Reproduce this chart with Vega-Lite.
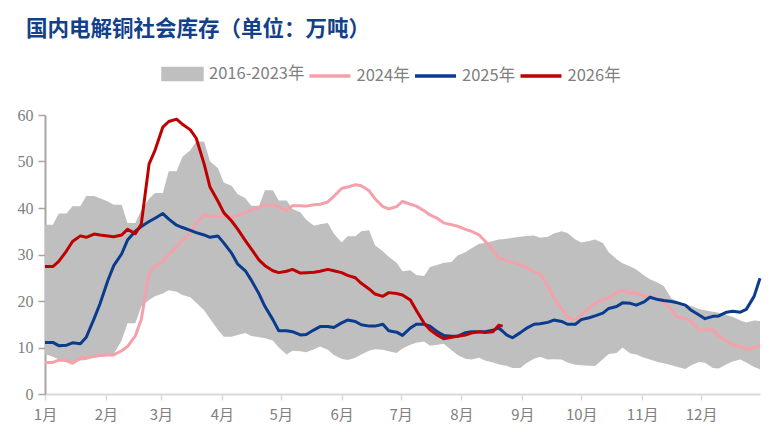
{
  "$schema": "https://vega.github.io/schema/vega-lite/v6.json",
  "autosize": {"type": "none"},
  "padding": {"left": 45, "top": 115, "right": 23, "bottom": 49},
  "width": 715,
  "height": 279,
  "background": "white",
  "title": {
    "text": "国内电解铜社会库存（单位：万吨）",
    "anchor": "start",
    "frame": "group",
    "offset": 11,
    "dx": -19,
    "font": "Noto Sans CJK SC",
    "fontSize": 21.5,
    "fontWeight": "bold",
    "color": "#12408a"
  },
  "data": {
    "values": [
      {"date": "2025-01-01", "lo": 8.6, "hi": 36.4, "y2024": 6.8, "y2025": 11.1, "y2026": 27.4},
      {"date": "2025-01-05", "lo": 8.0, "hi": 36.4, "y2024": 6.8, "y2025": 11.1, "y2026": 27.4},
      {"date": "2025-01-08", "lo": 7.5, "hi": 38.8, "y2024": 7.3, "y2025": 10.4, "y2026": 28.5},
      {"date": "2025-01-12", "lo": 7.0, "hi": 38.8, "y2024": 7.2, "y2025": 10.5, "y2026": 30.8},
      {"date": "2025-01-15", "lo": 7.0, "hi": 40.4, "y2024": 6.6, "y2025": 11.0, "y2026": 32.8},
      {"date": "2025-01-19", "lo": 7.2, "hi": 40.4, "y2024": 7.7, "y2025": 10.8, "y2026": 34.0},
      {"date": "2025-01-22", "lo": 7.3, "hi": 42.6, "y2024": 7.9, "y2025": 12.2, "y2026": 33.7},
      {"date": "2025-01-26", "lo": 7.8, "hi": 42.6, "y2024": 8.1, "y2025": 16.2, "y2026": 34.4},
      {"date": "2025-01-29", "lo": 8.0, "hi": 42.1, "y2024": 8.3, "y2025": 19.4, "y2026": 34.2},
      {"date": "2025-02-02", "lo": 8.2, "hi": 41.4, "y2024": 8.4, "y2025": 24.4, "y2026": 34.0},
      {"date": "2025-02-05", "lo": 8.6, "hi": 40.7, "y2024": 8.4, "y2025": 27.6, "y2026": 33.8},
      {"date": "2025-02-09", "lo": 11.5, "hi": 40.7, "y2024": 9.3, "y2025": 30.1, "y2026": 34.2},
      {"date": "2025-02-12", "lo": 15.2, "hi": 36.8, "y2024": 10.2, "y2025": 33.1, "y2026": 35.4},
      {"date": "2025-02-16", "lo": 15.2, "hi": 36.8, "y2024": 12.5, "y2025": 35.0, "y2026": 34.5},
      {"date": "2025-02-19", "lo": 18.8, "hi": 39.5, "y2024": 16.0, "y2025": 36.0, "y2026": 36.5},
      {"date": "2025-02-23", "lo": 20.2, "hi": 42.0, "y2024": 26.0, "y2025": 37.1, "y2026": 49.5},
      {"date": "2025-02-26", "lo": 21.0, "hi": 43.2, "y2024": 27.3, "y2025": 37.8, "y2026": 52.4},
      {"date": "2025-03-02", "lo": 21.6, "hi": 43.2, "y2024": 28.6, "y2025": 38.8, "y2026": 57.4},
      {"date": "2025-03-05", "lo": 22.3, "hi": 47.9, "y2024": 30.0, "y2025": 37.6, "y2026": 58.6},
      {"date": "2025-03-09", "lo": 22.0, "hi": 47.9, "y2024": 31.7, "y2025": 36.3, "y2026": 59.1},
      {"date": "2025-03-12", "lo": 21.3, "hi": 51.0, "y2024": 33.0, "y2025": 35.8, "y2026": 58.0},
      {"date": "2025-03-16", "lo": 20.8, "hi": 52.4, "y2024": 34.5, "y2025": 35.2, "y2026": 56.8},
      {"date": "2025-03-19", "lo": 19.6, "hi": 54.3, "y2024": 36.8, "y2025": 34.7, "y2026": 55.0},
      {"date": "2025-03-23", "lo": 18.0, "hi": 54.3, "y2024": 38.5, "y2025": 34.2, "y2026": 49.5},
      {"date": "2025-03-26", "lo": 16.2, "hi": 50.0, "y2024": 38.3, "y2025": 33.7, "y2026": 44.5},
      {"date": "2025-03-30", "lo": 13.8, "hi": 48.6, "y2024": 38.1, "y2025": 34.0, "y2026": 41.5},
      {"date": "2025-04-02", "lo": 12.3, "hi": 45.5, "y2024": 38.3, "y2025": 32.5, "y2026": 39.0},
      {"date": "2025-04-06", "lo": 12.3, "hi": 44.8, "y2024": 38.0, "y2025": 30.3, "y2026": 37.2},
      {"date": "2025-04-09", "lo": 12.7, "hi": 43.0, "y2024": 38.4, "y2025": 28.0, "y2026": 35.5},
      {"date": "2025-04-13", "lo": 13.1, "hi": 42.1, "y2024": 39.0, "y2025": 26.5, "y2026": 33.0},
      {"date": "2025-04-16", "lo": 12.5, "hi": 40.5, "y2024": 39.6, "y2025": 24.5, "y2026": 31.2},
      {"date": "2025-04-20", "lo": 12.2, "hi": 40.5, "y2024": 40.2, "y2025": 21.5, "y2026": 28.8},
      {"date": "2025-04-23", "lo": 12.0, "hi": 43.8, "y2024": 40.6, "y2025": 18.8, "y2026": 27.6},
      {"date": "2025-04-27", "lo": 11.5, "hi": 43.8, "y2024": 40.7, "y2025": 16.0, "y2026": 26.5},
      {"date": "2025-04-30", "lo": 10.0, "hi": 41.6, "y2024": 40.2, "y2025": 13.6, "y2026": 26.1},
      {"date": "2025-05-04", "lo": 8.5, "hi": 41.6, "y2024": 39.5, "y2025": 13.6, "y2026": 26.4},
      {"date": "2025-05-07", "lo": 9.3, "hi": 39.8, "y2024": 40.5, "y2025": 13.4, "y2026": 26.8},
      {"date": "2025-05-11", "lo": 9.2, "hi": 39.1, "y2024": 40.5, "y2025": 12.7, "y2026": 26.0},
      {"date": "2025-05-14", "lo": 9.0, "hi": 37.5, "y2024": 40.4, "y2025": 12.8, "y2026": 26.1},
      {"date": "2025-05-18", "lo": 9.6, "hi": 36.2, "y2024": 40.7, "y2025": 13.8, "y2026": 26.2},
      {"date": "2025-05-21", "lo": 10.2, "hi": 36.5, "y2024": 40.8, "y2025": 14.5, "y2026": 26.4},
      {"date": "2025-05-25", "lo": 9.5, "hi": 36.8, "y2024": 41.3, "y2025": 14.5, "y2026": 26.8},
      {"date": "2025-05-28", "lo": 8.4, "hi": 34.5, "y2024": 42.5, "y2025": 14.3, "y2026": 26.5},
      {"date": "2025-06-01", "lo": 7.6, "hi": 32.6, "y2024": 44.2, "y2025": 15.3, "y2026": 26.1},
      {"date": "2025-06-04", "lo": 7.3, "hi": 33.9, "y2024": 44.5, "y2025": 15.9, "y2026": 25.5},
      {"date": "2025-06-08", "lo": 7.8, "hi": 33.9, "y2024": 45.0, "y2025": 15.6, "y2026": 25.0},
      {"date": "2025-06-11", "lo": 8.5, "hi": 35.0, "y2024": 44.8, "y2025": 14.9, "y2026": 23.8},
      {"date": "2025-06-15", "lo": 9.3, "hi": 35.2, "y2024": 43.7, "y2025": 14.6, "y2026": 22.6},
      {"date": "2025-06-18", "lo": 9.6, "hi": 32.0, "y2024": 42.0, "y2025": 14.6, "y2026": 21.5},
      {"date": "2025-06-22", "lo": 9.5, "hi": 30.7, "y2024": 40.3, "y2025": 15.0, "y2026": 21.0},
      {"date": "2025-06-25", "lo": 9.2, "hi": 29.5, "y2024": 39.8, "y2025": 13.6, "y2026": 21.8},
      {"date": "2025-06-29", "lo": 8.8, "hi": 28.2, "y2024": 40.3, "y2025": 13.3, "y2026": 21.6},
      {"date": "2025-07-02", "lo": 9.8, "hi": 26.4, "y2024": 41.4, "y2025": 12.6, "y2026": 21.3},
      {"date": "2025-07-06", "lo": 10.6, "hi": 26.6, "y2024": 40.8, "y2025": 14.2, "y2026": 20.2},
      {"date": "2025-07-09", "lo": 11.0, "hi": 25.6, "y2024": 40.4, "y2025": 15.0, "y2026": 18.0},
      {"date": "2025-07-13", "lo": 11.3, "hi": 25.4, "y2024": 39.4, "y2025": 15.0, "y2026": 15.2},
      {"date": "2025-07-16", "lo": 10.4, "hi": 27.3, "y2024": 38.5, "y2025": 14.6, "y2026": 13.8},
      {"date": "2025-07-20", "lo": 10.6, "hi": 27.8, "y2024": 37.7, "y2025": 13.3, "y2026": 12.6},
      {"date": "2025-07-23", "lo": 10.8, "hi": 28.2, "y2024": 36.8, "y2025": 12.6, "y2026": 11.9},
      {"date": "2025-07-27", "lo": 9.4, "hi": 28.4, "y2024": 36.4, "y2025": 12.4, "y2026": 12.2},
      {"date": "2025-07-30", "lo": 8.4, "hi": 29.8, "y2024": 36.1, "y2025": 12.4, "y2026": 12.4},
      {"date": "2025-08-03", "lo": 7.6, "hi": 30.5, "y2024": 35.4, "y2025": 13.2, "y2026": 12.7},
      {"date": "2025-08-06", "lo": 7.4, "hi": 31.3, "y2024": 35.0, "y2025": 13.4, "y2026": 13.1},
      {"date": "2025-08-10", "lo": 7.8, "hi": 32.3, "y2024": 34.2, "y2025": 13.4, "y2026": 13.4},
      {"date": "2025-08-13", "lo": 7.2, "hi": 32.5, "y2024": 32.9, "y2025": 13.4, "y2026": 13.2},
      {"date": "2025-08-17", "lo": 6.8, "hi": 32.9, "y2024": 30.9, "y2025": 13.7, "y2026": 13.4},
      {"date": "2025-08-20", "lo": 6.4, "hi": 33.2, "y2024": 29.3, "y2025": 14.2, "y2026": 14.8},
      {"date": "2025-08-22", "lo": 6.2, "hi": 33.3, "y2024": 29.0, "y2025": 13.5, "y2026": 14.6},
      {"date": "2025-08-24", "lo": 6.1, "hi": 33.4, "y2024": 28.6, "y2025": 12.7, "y2026": null},
      {"date": "2025-08-27", "lo": 5.6, "hi": 33.6, "y2024": 28.3, "y2025": 12.1, "y2026": null},
      {"date": "2025-08-31", "lo": 5.6, "hi": 33.8, "y2024": 27.8, "y2025": 13.2, "y2026": null},
      {"date": "2025-09-03", "lo": 6.6, "hi": 34.0, "y2024": 27.2, "y2025": 14.1, "y2026": null},
      {"date": "2025-09-07", "lo": 7.6, "hi": 34.1, "y2024": 26.3, "y2025": 15.0, "y2026": null},
      {"date": "2025-09-10", "lo": 8.0, "hi": 33.6, "y2024": 25.8, "y2025": 15.1, "y2026": null},
      {"date": "2025-09-14", "lo": 7.4, "hi": 33.8, "y2024": 23.2, "y2025": 15.4, "y2026": null},
      {"date": "2025-09-17", "lo": 7.5, "hi": 34.5, "y2024": 20.6, "y2025": 15.9, "y2026": null},
      {"date": "2025-09-21", "lo": 7.4, "hi": 35.0, "y2024": 18.3, "y2025": 15.6, "y2026": null},
      {"date": "2025-09-24", "lo": 6.8, "hi": 34.6, "y2024": 16.5, "y2025": 15.0, "y2026": null},
      {"date": "2025-09-28", "lo": 6.3, "hi": 33.2, "y2024": 15.9, "y2025": 15.0, "y2026": null},
      {"date": "2025-10-01", "lo": 6.2, "hi": 32.6, "y2024": 17.0, "y2025": 16.0, "y2026": null},
      {"date": "2025-10-05", "lo": 6.1, "hi": 32.9, "y2024": 18.5, "y2025": 16.4, "y2026": null},
      {"date": "2025-10-08", "lo": 6.0, "hi": 33.2, "y2024": 19.5, "y2025": 16.8, "y2026": null},
      {"date": "2025-10-12", "lo": 7.5, "hi": 32.5, "y2024": 20.3, "y2025": 17.4, "y2026": null},
      {"date": "2025-10-15", "lo": 8.6, "hi": 30.5, "y2024": 20.6, "y2025": 18.4, "y2026": null},
      {"date": "2025-10-19", "lo": 8.8, "hi": 29.0, "y2024": 21.9, "y2025": 18.8, "y2026": null},
      {"date": "2025-10-22", "lo": 10.0, "hi": 28.1, "y2024": 22.2, "y2025": 19.6, "y2026": null},
      {"date": "2025-10-26", "lo": 8.7, "hi": 27.4, "y2024": 21.7, "y2025": 19.5, "y2026": null},
      {"date": "2025-10-29", "lo": 8.5, "hi": 26.8, "y2024": 21.8, "y2025": 19.1, "y2026": null},
      {"date": "2025-11-02", "lo": 7.8, "hi": 25.5, "y2024": 21.0, "y2025": 19.8, "y2026": null},
      {"date": "2025-11-05", "lo": 7.4, "hi": 24.7, "y2024": 20.9, "y2025": 20.8, "y2026": null},
      {"date": "2025-11-09", "lo": 6.9, "hi": 23.9, "y2024": 20.5, "y2025": 20.3, "y2026": null},
      {"date": "2025-11-12", "lo": 6.6, "hi": 23.2, "y2024": 19.6, "y2025": 20.1, "y2026": null},
      {"date": "2025-11-16", "lo": 6.2, "hi": 20.5, "y2024": 18.2, "y2025": 19.9, "y2026": null},
      {"date": "2025-11-19", "lo": 5.8, "hi": 20.0, "y2024": 16.5, "y2025": 19.6, "y2026": null},
      {"date": "2025-11-23", "lo": 5.4, "hi": 19.3, "y2024": 16.2, "y2025": 19.1, "y2026": null},
      {"date": "2025-11-26", "lo": 6.2, "hi": 18.9, "y2024": 15.6, "y2025": 18.0, "y2026": null},
      {"date": "2025-11-30", "lo": 6.9, "hi": 18.3, "y2024": 13.7, "y2025": 17.0, "y2026": null},
      {"date": "2025-12-03", "lo": 6.7, "hi": 18.0, "y2024": 13.8, "y2025": 16.2, "y2026": null},
      {"date": "2025-12-07", "lo": 5.6, "hi": 17.7, "y2024": 13.8, "y2025": 16.7, "y2026": null},
      {"date": "2025-12-10", "lo": 5.5, "hi": 17.5, "y2024": 12.5, "y2025": 16.8, "y2026": null},
      {"date": "2025-12-14", "lo": 6.4, "hi": 17.0, "y2024": 11.4, "y2025": 17.6, "y2026": null},
      {"date": "2025-12-17", "lo": 7.0, "hi": 16.6, "y2024": 10.7, "y2025": 17.8, "y2026": null},
      {"date": "2025-12-21", "lo": 7.4, "hi": 15.8, "y2024": 10.1, "y2025": 17.6, "y2026": null},
      {"date": "2025-12-24", "lo": 6.8, "hi": 15.4, "y2024": 9.7, "y2025": 18.2, "y2026": null},
      {"date": "2025-12-28", "lo": 5.8, "hi": 15.8, "y2024": 9.9, "y2025": 21.0, "y2026": null},
      {"date": "2025-12-31", "lo": 5.3, "hi": 15.7, "y2024": 10.5, "y2025": 24.9, "y2026": null}
    ]
  },
  "encoding": {
    "x": {
      "field": "date",
      "type": "temporal",
      "title": null,
      "scale": {
        "type": "utc",
        "domain": [
          {"year": 2025, "month": 1, "date": 1, "utc": true},
          {"year": 2025, "month": 12, "date": 31, "utc": true}
        ]
      },
      "axis": {
        "values": [
          {"year": 2025, "month": 1, "date": 1, "utc": true},
          {"year": 2025, "month": 2, "date": 1, "utc": true},
          {"year": 2025, "month": 3, "date": 1, "utc": true},
          {"year": 2025, "month": 4, "date": 1, "utc": true},
          {"year": 2025, "month": 5, "date": 1, "utc": true},
          {"year": 2025, "month": 6, "date": 1, "utc": true},
          {"year": 2025, "month": 7, "date": 1, "utc": true},
          {"year": 2025, "month": 8, "date": 1, "utc": true},
          {"year": 2025, "month": 9, "date": 1, "utc": true},
          {"year": 2025, "month": 10, "date": 1, "utc": true},
          {"year": 2025, "month": 11, "date": 1, "utc": true},
          {"year": 2025, "month": 12, "date": 1, "utc": true}
        ],
        "labelExpr": "utcFormat(datum.value, '%-m') + '月'",
        "grid": false,
        "domainColor": "#d9d9d9",
        "domainWidth": 2,
        "tickColor": "#d9d9d9",
        "tickWidth": 1.5,
        "tickSize": 6,
        "labelPadding": 7,
        "labelFont": "Noto Sans CJK SC",
        "labelFontSize": 15,
        "labelColor": "#808080",
        "labelFlush": false,
        "labelOverlap": false
      }
    }
  },
  "layer": [
    {
      "mark": {"type": "area", "opacity": 1},
      "encoding": {
        "y": {
          "field": "hi",
          "type": "quantitative",
          "title": null,
          "scale": {"domain": [0, 60], "nice": false, "zero": true},
          "axis": {
            "values": [0, 10, 20, 30, 40, 50, 60],
            "grid": false,
            "domainColor": "#a6a6a6",
            "domainWidth": 2,
            "tickColor": "#a6a6a6",
            "tickWidth": 1.5,
            "tickSize": 7,
            "labelPadding": 5,
            "labelFont": "Liberation Serif",
            "labelFontSize": 16,
            "labelColor": "#808080"
          }
        },
        "y2": {"field": "lo"},
        "color": {"datum": "band"}
      }
    },
    {
      "transform": [
        {"fold": ["y2024", "y2025", "y2026"], "as": ["series", "v"]},
        {"filter": "isValid(datum.v)"}
      ],
      "mark": {"type": "line", "strokeWidth": 3, "strokeJoin": "round"},
      "encoding": {
        "y": {"field": "v", "type": "quantitative"},
        "color": {
          "field": "series",
          "type": "nominal",
          "scale": {
            "domain": ["band", "y2024", "y2025", "y2026"],
            "range": ["#bfbfbf", "#f4a1ab", "#0b3b8c", "#c00000"]
          },
          "legend": {
            "title": null,
            "orient": "none",
            "direction": "horizontal",
            "legendX": 115,
            "legendY": -64,
            "padding": 0,
            "symbolSize": 1681,
            "labelOffset": 4,
            "columnPadding": -2.5,
            "labelFont": "Noto Sans CJK SC",
            "labelFontSize": 16.5,
            "labelColor": "#808080",
            "labelExpr": "{'band': '2016-2023年', 'y2024': '2024年', 'y2025': '2025年', 'y2026': '2026年'}[datum.label]",
            "encode": {
              "symbols": {
                "update": {
                  "shape": {"signal": "datum.value === 'band' ? 'M-0.95,-0.27H0.95V0.27H-0.95Z' : 'M-1,0H1'"},
                  "fill": {"signal": "datum.value === 'band' ? '#bfbfbf' : 'transparent'"},
                  "stroke": {"signal": "datum.value === 'y2024' ? '#f4a1ab' : datum.value === 'y2025' ? '#0b3b8c' : datum.value === 'y2026' ? '#c00000' : 'transparent'"},
                  "strokeWidth": {"value": 3.5},
                  "opacity": {"value": 1}
                }
              }
            }
          }
        }
      }
    }
  ],
  "config": {
    "view": {"stroke": null}
  }
}
